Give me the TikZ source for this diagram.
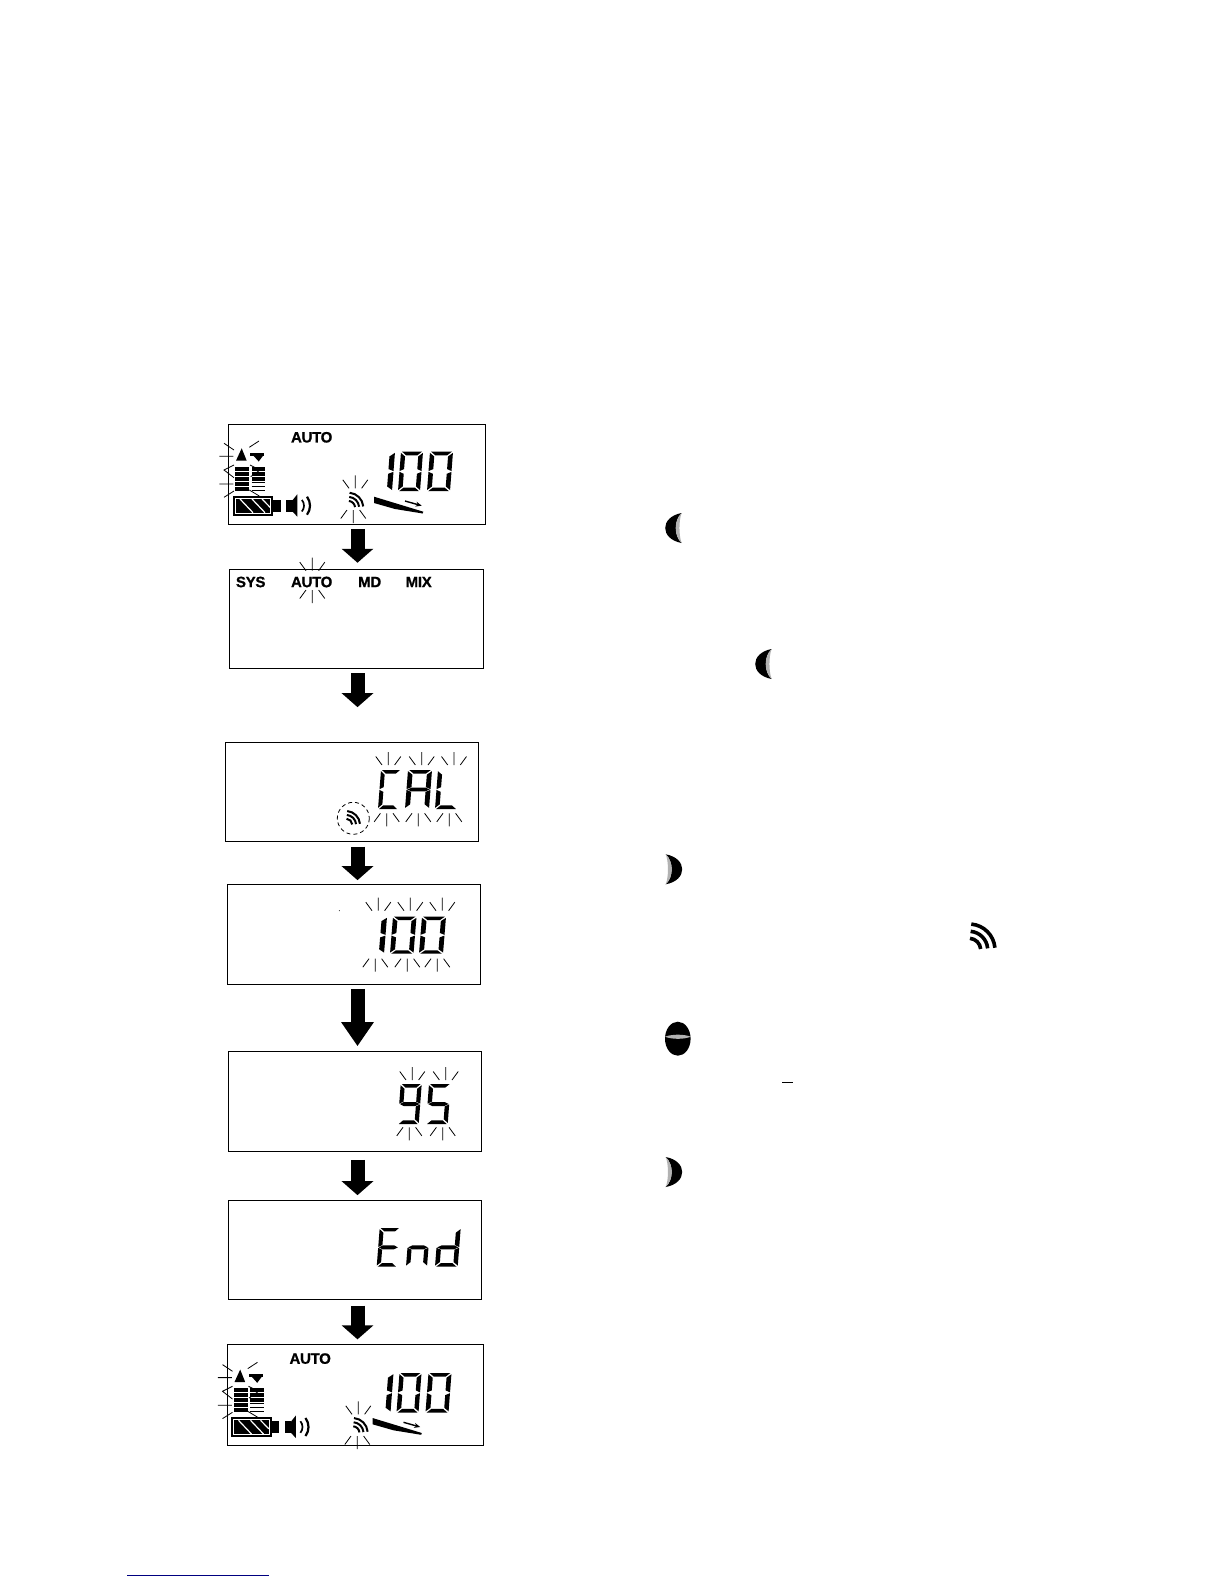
\documentclass[tikz,border=0pt]{standalone}
\usepackage{fontspec}
\setmainfont{Liberation Sans}
\newfontfamily\lcdfont[FakeBold=1,LetterSpace=-2]{Liberation Sans Bold}
\usetikzlibrary{arrows.meta}

\newcommand{\lcdchar}[5]{
    \begin{scope}[shift={(#1,#2)},x=#3pt,y={(-3pt,-#4pt)}]
        \foreach \s in {#5} {
            \pic {seg\s};
        }
    \end{scope}
}
\newcommand{\sparks}[3]{
    \draw[spark] (#1-12.5,#2+#3*8.5) -- (#1-6.3,#2)
                 (#1,#2+#3*13) -- (#1,#2)
                 (#1+12.5,#2+#3*8.5) -- (#1+6.3,#2);
}
\newcommand{\sigicon}[4]{
    \begin{scope}[shift={(#1,#2)}]
        \foreach \r in {0.45,0.72,1} {
            \draw[line width=#4pt] (-85:#3*\r) arc (-85:-5:#3*\r);
        }
    \end{scope}
}
\newcommand{\crescent}[3]{
    \begin{scope}[shift={(#1,#2)},xscale=#3]
        \fill[black] (0,-15) .. controls (-22,-11) and (-22,11) .. (0,15)
            .. controls (-8,8) and (-8,-8) .. (0,-15);
        \fill[black!30] (0,-15) .. controls (-8,-8) and (-8,8) .. (0,15)
            .. controls (-3,8) and (-3,-8) .. (0,-15);
    \end{scope}
}
\newcommand{\lcdstatus}{
    \node[lcdlabel] (autostatus) at (311.7,437.3) {AUTO};
    \fill (241.7,448.3) -- (236,460.7) -- (246.7,460.7) -- cycle;
    \fill (250,453) rectangle (264.3,455.5);
    \fill (253.3,455.5) -- (263.2,455.5) -- (258.7,461.5) -- cycle;
    \draw[spark] (224,443.3) -- (234,450)
        (219.3,456.3) -- (233.3,456.3)
        (234,465) -- (224,470) -- (234,477.7)
        (219.3,484) -- (233.3,484)
        (224,497.3) -- (234,491)
        (249.3,447.3) -- (259,441)
        (250,465) -- (260,470) -- (250.7,476.7)
        (249.3,490) -- (259.3,496);
    \foreach \i in {0,1,2,3,4} {
        \fill (235,467+\i*5) rectangle (249.3,471+\i*5);
    }
    \foreach \i in {0,1,2} {
        \fill (251.7,467+\i*5) rectangle (265,471+\i*5);
    }
    \draw[spark] (251.7,482.5) -- (265,482.5) (251.7,486.5) -- (265,486.5) (251.7,490.5) -- (265,490.5);
    \draw[line width=2pt] (233.7,497) rectangle (272.3,514.7);
    \fill (273.3,500) rectangle (280.7,511.7);
    \fill (235.7,499) rectangle (270.3,512.7);
    \draw[white,line width=1.2pt] (240,499) -- (253,512.7) (252,499) -- (265,512.7) (262,499) -- (270.3,507.5);
    \fill (286,500) rectangle (292.7,511.7);
    \fill (292.7,500) -- (297.3,494.3) -- (297.3,516.7) -- (292.7,511.7) -- cycle;
    \draw[line width=1.7pt] (295,505.7) ++(-40:9) arc (-40:40:9);
    \draw[line width=2.2pt] (295,505.7) ++(-37:15) arc (-37:37:15);
    \fill (374,496.7) -- (423.3,511.7) -- (422.7,513.5) -- (395,509) -- (374,503) -- cycle;
    \draw[line width=1.4pt,-{Stealth[length=6pt,width=5pt]}] (405,501) -- (421.7,505.7);
    \lcdchar{369}{451.7}{26}{39.5}{b,c}
    \lcdchar{401}{451.7}{22}{39.5}{a,b,c,d,e,f}
    \lcdchar{430}{451.7}{23}{39.5}{a,b,c,d,e,f}
}

\begin{document}
\begin{tikzpicture}[
            x=1pt,
            y=-1pt,
            lcd/.style={
                draw,
                line width=1.1pt,
                inner sep=0pt
            },
            flowarrow/.style={
                line width=14pt,
                -{Triangle[width=31pt,length=14pt]}
            },
            longarrow/.style={
                line width=14pt,
                -{Triangle[width=31pt,length=24pt]}
            },
            lcdlabel/.style={
                font=\fontsize{15}{15}\selectfont\lcdfont,
                inner sep=0pt
            },
            spark/.style={line width=0.8pt},
            sega/.pic={\fill (0.05,0) -- (0.95,0) -- (0.76,0.09) -- (0.24,0.09) -- cycle;},
            segd/.pic={\fill (0.05,1) -- (0.95,1) -- (0.76,0.91) -- (0.24,0.91) -- cycle;},
            segf/.pic={\fill (0,0.03) -- (0.2,0.12) -- (0.2,0.44) -- (0,0.49) -- cycle;},
            sege/.pic={\fill (0,0.51) -- (0.2,0.56) -- (0.2,0.88) -- (0,0.97) -- cycle;},
            segb/.pic={\fill (1,0.03) -- (0.8,0.12) -- (0.8,0.44) -- (1,0.49) -- cycle;},
            segc/.pic={\fill (1,0.51) -- (0.8,0.56) -- (0.8,0.88) -- (1,0.97) -- cycle;},
            segg/.pic={\fill (0.03,0.5) -- (0.22,0.45) -- (0.78,0.45) -- (0.97,0.5) -- (0.78,0.55) -- (0.22,0.55) -- cycle;}
        ]
            \useasboundingbox (0,0) rectangle (1224,1584);
            \foreach \n/\x/\y/\w/\h in {
                1/356.7/474.2/256.7/99.7,
                2/356.3/618.8/254/99,
                3/351.8/791.8/253/99,
                4/354/934.3/253.4/100,
                5/355/1101.3/253.4/100,
                6/355/1249.8/253.4/99,
                7/355.3/1394.7/256/101
            } {
                \node[lcd,minimum width=\w pt,minimum height=\h pt] (lcd\n) at (\x,\y) {};
            }
            \coordinate (arrowx) at (357.5,0);
            \foreach \a/\b/\kind/\gapa/\gapb in {
                1/2/flowarrow/4.3/6,
                2/3/flowarrow/4.4/34.6,
                3/4/flowarrow/4.7/3.6,
                4/5/longarrow/4/4.6,
                5/6/flowarrow/8/4.6,
                6/7/flowarrow/5.7/4.3
            } {
                \draw[\kind,shorten <=\gapa pt,shorten >=\gapb pt]
                    (lcd\a.south -| arrowx) -- (lcd\b.north -| arrowx);
            }
            \begin{scope}
                \lcdstatus
            \end{scope}
            \begin{scope}[shift={(-1.5,921.3)}]
                \lcdstatus
            \end{scope}
            \sigicon{348.3}{507.7}{15}{2}
            \sparks{355.3}{488.3}{-1}
            \sparks{353.3}{510}{1}
            \sigicon{352.7}{1433}{15}{2}
            \sparks{358.3}{1414.3}{-1}
            \sparks{357.3}{1436}{1}
            \foreach \tag/\word/\x in {
                sys/SYS/250.7,
                auto/AUTO/311.7,
                md/MD/369.7,
                mix/MIX/418.7
            } {
                \node[lcdlabel] (\tag) at (\x,582) {\word};
            }
            \sparks{312.3}{570.7}{-1}
            \sparks{312.3}{590}{1}
            \lcdchar{381}{770}{20}{39}{a,d,e,f}
            \lcdchar{408}{770}{24}{39}{a,b,c,e,f,g}
            \lcdchar{438}{770}{22}{39}{d,e,f}
            \foreach \x in {388.3,421.7,454} {
                \sparks{\x}{765}{-1}
            }
            \foreach \x in {386.7,418.3,449.3} {
                \sparks{\x}{813.3}{1}
            }
            \sigicon{346}{825}{14}{2}
            \draw[line width=0.8pt,dash pattern=on 4pt off 3pt] (353.3,818.3) circle (16);
            \fill (339.3,910.7) circle (0.5);
            \lcdchar{361}{916.7}{26}{37}{b,c}
            \lcdchar{393}{916.7}{23.5}{37}{a,b,c,d,e,f}
            \lcdchar{422}{916.7}{24}{37}{a,b,c,d,e,f}
            \foreach \x in {378.3,410.3,442.3} {
                \sparks{\x}{910.7}{-1}
            }
            \foreach \x in {375.3,407.3,437.3} {
                \sparks{\x}{958.7}{1}
            }
            \lcdchar{400.7}{1084}{21}{40}{a,b,c,d,f,g}
            \lcdchar{429}{1084}{21.7}{40}{a,c,d,f,g}
            \foreach \x in {412.3,445.7} {
                \sparks{\x}{1080}{-1}
                \sparks{\x-3}{1127.3}{1}
            }
            \lcdchar{379.7}{1228}{20.3}{38.7}{a,d,e,f,g}
            \lcdchar{409}{1228}{21}{38.7}{c,e,g}
            \lcdchar{438}{1228}{22.7}{38.7}{b,c,d,e,g}
            \crescent{681.7}{528}{1}
            \crescent{771.7}{664}{1}
            \crescent{665.7}{869.3}{-1}
            \crescent{665.7}{1172}{-1}
            \sigicon{969}{950}{26}{3.6}
            \fill (677.8,1038.7) ellipse (12.8 and 17);
            \fill[black!30] (665,1036.7) .. controls (672,1034) and (684,1034) .. (690.7,1036.7)
                .. controls (684,1039.5) and (672,1039.5) .. (665,1036.7);
            \draw[line width=1pt] (782.3,1082.3) -- (792.7,1082.3);
            \draw[line width=1pt,blue!50!black] (127.3,1575) -- (269,1575);
\end{tikzpicture}
\end{document}
